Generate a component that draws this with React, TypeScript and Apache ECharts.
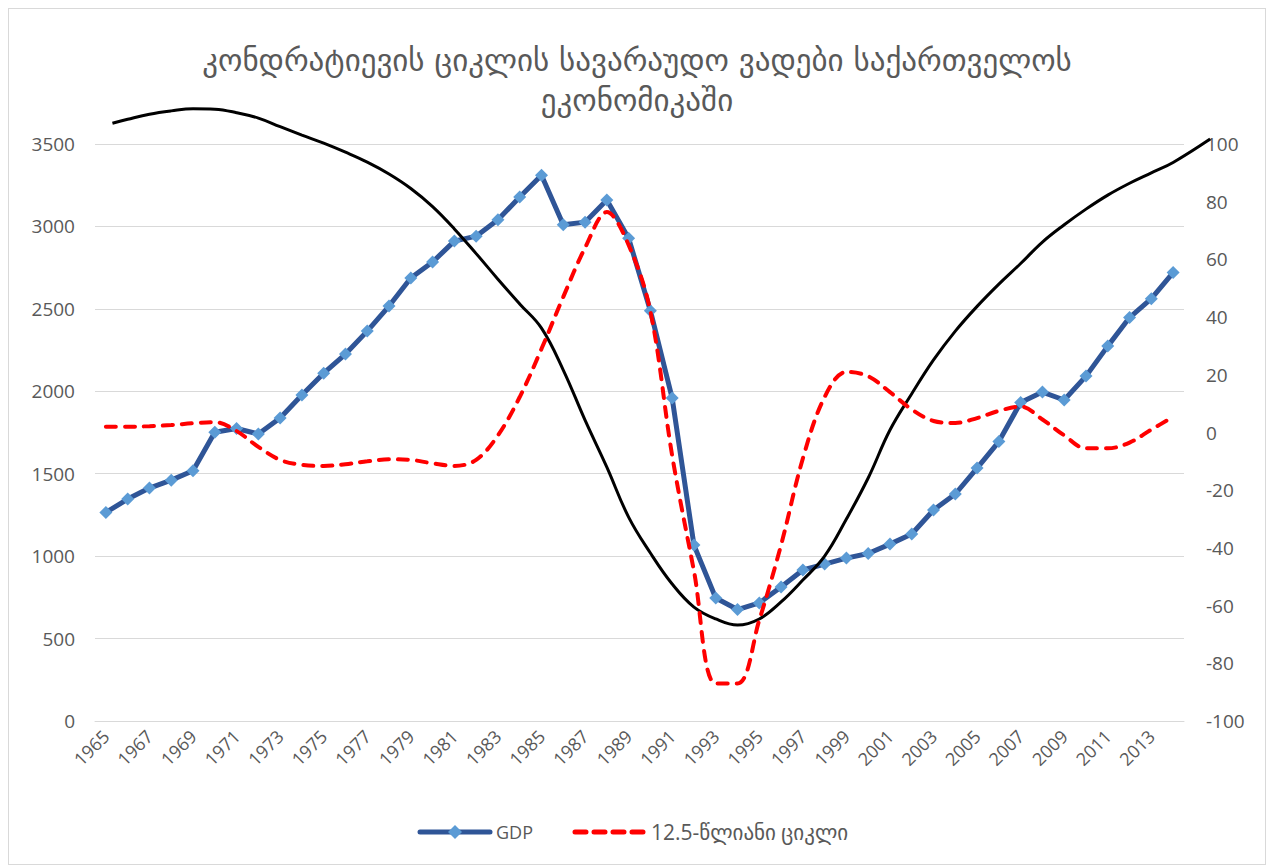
import React, { useEffect, useRef } from "react";
import * as echarts from "echarts";

const years: string[] = [];
for (let y = 1965; y <= 2014; y++) years.push(String(y));

const gdp = [
  1265, 1346, 1413, 1461, 1518, 1752, 1774, 1741, 1838, 1977,
  2110, 2226, 2365, 2517, 2687, 2784, 2911, 2941, 3040, 3178,
  3311, 3010, 3026, 3160, 2929, 2489, 1959, 1067, 746, 676,
  716, 813, 916, 952, 988, 1016, 1073, 1134, 1280, 1377,
  1534, 1695, 1932, 1995, 1947, 2092, 2274, 2447, 2562, 2720,
];

const cycle = [
  2, 2, 2.2, 2.6, 3.2, 3.6, 0.5, -5, -9.5, -11.2,
  -11.6, -11, -10, -9.3, -9.5, -10.7, -11.6, -9.5, -1, 12.3,
  29, 47, 64, 76.4, 65, 42, -8, -48, -87, -87,
  -65, -39, -9, 12.3, 21, 19.5, 14, 8, 4, 3.3,
  5, 7.5, 9, 4.5, -1, -5.5, -5.5, -3.5, 1, 5.4,
];

const trendYears = [
  1965.3, 1966, 1967, 1968, 1969, 1970, 1971, 1972, 1973, 1974,
  1975, 1976, 1977, 1978, 1979, 1980, 1981, 1982, 1983, 1984,
  1985, 1986, 1987, 1988, 1989, 1990, 1991, 1992, 1993, 1994,
  1995, 1996, 1997, 1998, 1999, 2000, 2001, 2002, 2003, 2004,
  2005, 2006, 2007, 2008, 2009, 2010, 2011, 2012, 2013, 2014, 2015.7,
];
const trendValues = [
  3626, 3650, 3681, 3701, 3714, 3711, 3690, 3657, 3605, 3554,
  3505, 3450, 3390, 3318, 3230, 3120, 2985, 2835, 2680, 2530,
  2383, 2129, 1825, 1540, 1237, 1019, 831, 691, 619, 582,
  619, 722, 855, 1000, 1225, 1474, 1765, 1985, 2190, 2365,
  2515, 2650, 2775, 2905, 3010, 3105, 3190, 3262, 3325, 3388, 3530,
];

const leftTicks = { min: 0, max: 3500, interval: 500 };
const rightTicks = { min: -100, max: 100, interval: 20 };

const titleText = "კონდრატიევის ციკლის სავარაუდო ვადები საქართველოს\nეკონომიკაში";
const gdpName = "GDP";
const cycleName = "12.5-წლიანი ციკლი";

export default function App() {
  const ref = useRef<HTMLDivElement>(null);
  useEffect(() => {
    if (!ref.current) return;
    const chart = echarts.init(ref.current, null, { renderer: "svg" });
    const labelColor = "#595959";
    const font = "'Open Sans', 'DejaVu Sans', sans-serif";
    const gridLeft = 86;
    const gridWidth = 1089;
    const step = gridWidth / years.length;
    const xMin2 = 1964.5;
    const xMax2 = 2016.5;
    const legendY = 823;
    chart.setOption({
      animation: false,
      backgroundColor: "#ffffff",
      title: {
        text: titleText,
        left: "center",
        top: 26,
        textStyle: {
          fontFamily: "'DejaVu Sans', sans-serif",
          fontSize: 31,
          fontWeight: "normal",
          color: labelColor,
          lineHeight: 40,
        },
      },
      grid: [
        { left: gridLeft, top: 135, width: gridWidth, height: 577 },
        { left: gridLeft, top: 135, width: step * (xMax2 - xMin2), height: 577 },
      ],
      xAxis: [
        {
          type: "category",
          gridIndex: 0,
          data: years,
          boundaryGap: true,
          axisLine: { show: true, lineStyle: { color: "#d9d9d9", width: 1 } },
          axisTick: { show: false },
          axisLabel: {
            interval: 1,
            rotate: 45,
            margin: 12,
            color: labelColor,
            fontFamily: font,
            fontSize: 18,
          },
        },
        {
          type: "value",
          gridIndex: 1,
          min: xMin2,
          max: xMax2,
          show: false,
          splitLine: { show: false },
        },
      ],
      yAxis: [
        {
          type: "value",
          gridIndex: 0,
          ...leftTicks,
          axisLine: { show: false },
          axisTick: { show: false },
          splitLine: { lineStyle: { color: "#d9d9d9", width: 1 } },
          axisLabel: {
            color: labelColor,
            fontFamily: font,
            fontSize: 19,
            margin: 20,
            formatter: (v: number) => String(v),
          },
        },
        {
          type: "value",
          gridIndex: 0,
          ...rightTicks,
          position: "right",
          axisLine: { show: false },
          axisTick: { show: false },
          splitLine: { show: false },
          axisLabel: { color: labelColor, fontFamily: font, fontSize: 19, margin: 22 },
        },
        {
          type: "value",
          gridIndex: 1,
          ...leftTicks,
          show: false,
          splitLine: { show: false },
        },
      ],
      series: [
        {
          name: gdpName,
          type: "line",
          data: gdp,
          xAxisIndex: 0,
          yAxisIndex: 0,
          symbol: "diamond",
          symbolSize: 13,
          lineStyle: { color: "#2F5597", width: 5 },
          itemStyle: { color: "#5B9BD5" },
          z: 2,
        },
        {
          name: "trend",
          type: "line",
          data: trendYears.map((y, i) => [y, trendValues[i]]),
          xAxisIndex: 1,
          yAxisIndex: 2,
          smooth: 0.4,
          showSymbol: false,
          symbol: "none",
          clip: false,
          lineStyle: { color: "#000000", width: 3 },
          itemStyle: { color: "#000000" },
          z: 3,
        },
        {
          name: cycleName,
          type: "line",
          data: cycle,
          xAxisIndex: 0,
          yAxisIndex: 1,
          smooth: 0.35,
          showSymbol: false,
          symbol: "none",
          lineStyle: { color: "#FF0000", width: 4, type: [10, 9], cap: "round" },
          itemStyle: { color: "#FF0000" },
          z: 4,
        },
      ],
      graphic: [
        {
          type: "line",
          shape: { x1: 411, y1: legendY, x2: 481, y2: legendY },
          style: { stroke: "#2F5597", lineWidth: 5, lineCap: "round" },
        },
        {
          type: "polygon",
          shape: { points: [[446, legendY - 7], [453, legendY], [446, legendY + 7], [439, legendY]] },
          style: { fill: "#5B9BD5" },
        },
        {
          type: "text",
          x: 487,
          y: legendY,
          style: {
            text: gdpName,
            fill: labelColor,
            font: "18px 'Open Sans', sans-serif",
            verticalAlign: "middle",
          },
        },
        {
          type: "line",
          shape: { x1: 566, y1: legendY, x2: 636, y2: legendY },
          style: { stroke: "#FF0000", lineWidth: 5, lineCap: "round", lineDash: [11, 8] },
        },
        {
          type: "text",
          x: 642,
          y: legendY,
          style: {
            text: cycleName,
            fill: labelColor,
            font: "21px 'Open Sans', 'DejaVu Sans', sans-serif",
            verticalAlign: "middle",
          },
        },
      ],
    });
    return () => chart.dispose();
  }, []);
  return (
    <div style={{ width: 1258, height: 857, border: "1px solid #d9d9d9", boxSizing: "border-box" }}>
      <div ref={ref} style={{ width: 1256, height: 855 }} />
    </div>
  );
}
